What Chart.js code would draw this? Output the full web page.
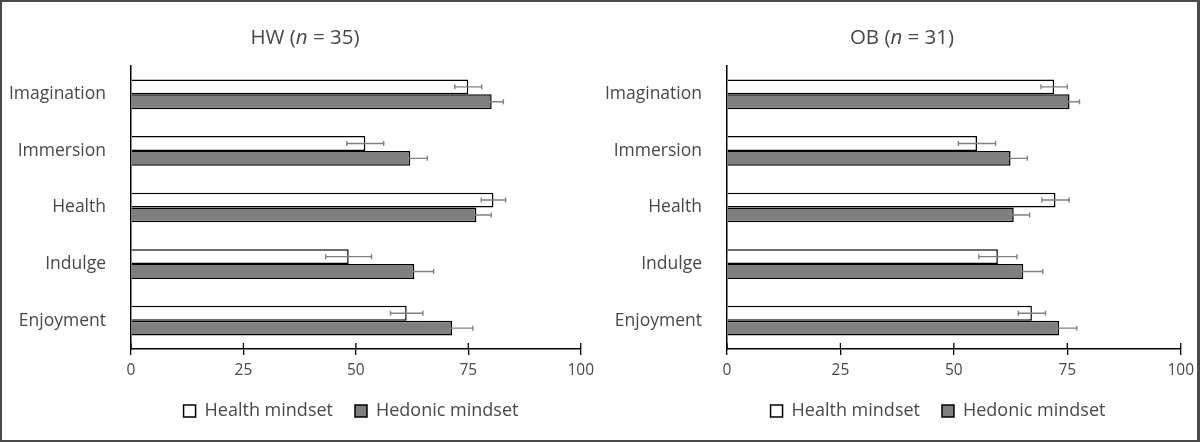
<!DOCTYPE html>
<html>
<head>
<meta charset="utf-8">
<script src="https://cdn.jsdelivr.net/npm/chart.js@4"></script>
<style>
  body { margin: 0; background: #fff; }
  #wrap { position: relative; width: 1200px; height: 442px; overflow: hidden; }
  .panel { position: absolute; top: 0; width: 600px; height: 442px; }
  .title { position: absolute; top: 23px; width: 600px; text-align: center;
           font: 20.5px "Open Sans", sans-serif; color: #484848; line-height: 26px; }
  #frame { position: absolute; left: 0; top: 0; width: 1200px; height: 442px; box-sizing: border-box;
           border: 2px solid #4a4a4a; border-right-width: 3px; pointer-events: none; }
</style>
</head>
<body>
<div id="wrap">
  <div class="panel" style="left:0">
    <canvas id="hwChart" width="600" height="442"></canvas>
    <div class="title" style="left:5px">HW (<i>n</i> = 35)</div>
  </div>
  <div class="panel" style="left:600px">
    <canvas id="obChart" width="600" height="442"></canvas>
    <div class="title" style="left:2px">OB (<i>n</i> = 31)</div>
  </div>
  <div id="frame"></div>
</div>
<script>
/** Data: mean scores and error bars per mindset. */
const categories = ['Imagination', 'Immersion', 'Health', 'Indulge', 'Enjoyment'];
const xTicks = [0, 25, 50, 75, 100];

const hwHealth = [75.0, 52.1, 80.6, 48.4, 61.3];
const hwHealthErr = [3.0, 4.1, 2.7, 5.1, 3.6];
const hwHedonic = [80.2, 62.1, 76.8, 63.0, 71.4];
const hwHedonicErr = [2.6, 3.8, 3.3, 4.3, 4.6];

const obHealth = [72.1, 55.1, 72.4, 59.7, 67.2];
const obHealthErr = [2.9, 4.1, 3.0, 4.2, 3.0];
const obHedonic = [75.5, 62.5, 63.2, 65.3, 73.2];
const obHedonicErr = [2.2, 3.7, 3.5, 4.3, 3.9];

const textColor = '#484848';
const fontFamily = '"Open Sans", sans-serif';

/** Draws the error whiskers and the upper half of the x tick marks. */
const errorBars = {
    id: 'errorBars',
    afterDatasetsDraw(chart) {
        const ctx = chart.ctx;
        const x = chart.scales.x;
        ctx.save();
        ctx.strokeStyle = '#808080';
        ctx.lineWidth = 1.4;
        chart.data.datasets.forEach((ds, i) => {
            chart.getDatasetMeta(i).data.forEach((bar, j) => {
                const lo = x.getPixelForValue(ds.data[j] - ds.errors[j]);
                const hi = x.getPixelForValue(ds.data[j] + ds.errors[j]);
                const y = bar.y;
                ctx.beginPath();
                ctx.moveTo(lo, y); ctx.lineTo(hi, y);
                ctx.moveTo(lo, y - 2.5); ctx.lineTo(lo, y + 2.5);
                ctx.moveTo(hi, y - 2.5); ctx.lineTo(hi, y + 2.5);
                ctx.stroke();
            });
        });
        ctx.strokeStyle = '#000';
        ctx.lineWidth = 1.3;
        const bottom = chart.chartArea.bottom;
        x.ticks.forEach(t => {
            const px = x.getPixelForValue(t.value);
            ctx.beginPath();
            ctx.moveTo(px, bottom - 6); ctx.lineTo(px, bottom);
            ctx.stroke();
        });
        ctx.restore();
    }
};

/** Moves the legend sideways so it sits under the plot like in the figure. */
const legendShift = {
    id: 'legendShift',
    afterLayout(chart, args, opts) {
        chart.legend.left += opts.dx;
        chart.legend.right += opts.dx;
    }
};

/**
 * Creates one horizontal grouped bar panel.
 */
function createChart(elementId, health, healthErr, hedonic, hedonicErr, yWidth, padLeft, padRight, legendDx) {
    const context = document.getElementById(elementId);
    return new Chart(context, {
        type: 'bar',
        data: {
            labels: categories,
            datasets: [{
                label: 'Health mindset',
                data: health,
                errors: healthErr,
                backgroundColor: '#ffffff',
                borderColor: '#000000',
                borderWidth: 1.5
            }, {
                label: 'Hedonic mindset',
                data: hedonic,
                errors: hedonicErr,
                backgroundColor: '#7f7f7f',
                borderColor: '#000000',
                borderWidth: 1.5
            }]
        },
        options: {
            indexAxis: 'y',
            responsive: false,
            animation: false,
            categoryPercentage: 0.525,
            barPercentage: 1,
            layout: { padding: { top: 66, bottom: 12, left: padLeft, right: padRight } },
            scales: {
                x: {
                    min: 0,
                    max: 100,
                    afterBuildTicks: scale => { scale.ticks = xTicks.map(v => ({ value: v })); },
                    afterFit: scale => { scale.height = 31; },
                    grid: { drawOnChartArea: false, drawTicks: true, tickLength: 6, color: '#000', lineWidth: 1.3 },
                    border: { display: true, color: '#000', width: 1.5 },
                    ticks: { color: textColor, font: { family: fontFamily, size: 15.5 }, padding: 6, maxRotation: 0 }
                },
                y: {
                    afterFit: scale => { scale.width = yWidth; },
                    grid: { display: false },
                    border: { display: true, color: '#000', width: 1.5 },
                    ticks: { color: textColor, font: { family: fontFamily, size: 17.5 }, padding: 17 }
                }
            },
            plugins: {
                tooltip: { enabled: false },
                legendShift: { dx: legendDx },
                legend: {
                    position: 'bottom',
                    labels: {
                        color: textColor,
                        font: { family: fontFamily, size: 18 },
                        boxWidth: 12,
                        boxHeight: 12,
                        padding: 22
                    }
                }
            }
        },
        plugins: [errorBars, legendShift]
    });
}

function main() {
    createChart('hwChart', hwHealth, hwHealthErr, hwHedonic, hwHedonicErr, 123, 8, 14, 54);
    createChart('obChart', obHealth, obHealthErr, obHedonic, obHedonicErr, 123, 4, 18, 45);
}

main();
</script>
</body>
</html>
